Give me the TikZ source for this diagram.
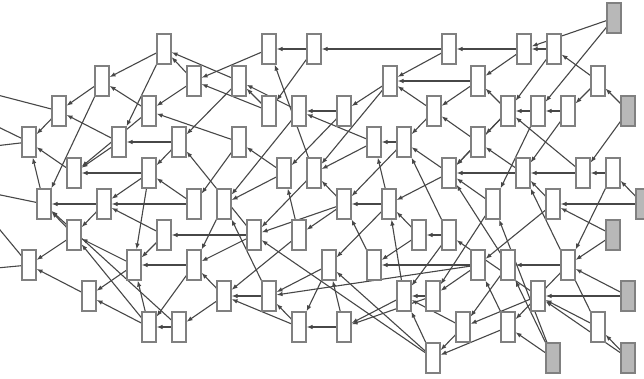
\documentclass[tikz,border=0pt]{standalone}
\usetikzlibrary{arrows.meta, backgrounds}
\begin{document}
\begin{tikzpicture}[
    x=1pt, y=-1pt,
    blk/.style={draw=black!50, fill=white, line width=1.1pt, minimum width=14pt, minimum height=30pt, inner sep=0pt},
    src/.style={blk, fill=black!28},
    arr/.style={-{Latex[length=6pt, width=4.5pt]}, line width=1.1pt, black!72},
  ]
  \useasboundingbox (0,0) rectangle (644,379);
  % --- row a
  \node[blk] (a1) at (164,49) {}; \node[blk] (a2) at (269,49) {}; \node[blk] (a3) at (314,49) {};
  \node[blk] (a4) at (449,49) {}; \node[blk] (a5) at (524,49) {}; \node[blk] (a6) at (554,49) {};
  \node[src] (a7) at (614,18) {};
  % --- row b
  \node[blk] (b1) at (102,81) {}; \node[blk] (b2) at (194,81) {}; \node[blk] (b3) at (239,81) {};
  \node[blk] (b4) at (390,81) {}; \node[blk] (b5) at (478,81) {}; \node[blk] (b6) at (598,81) {};
  % --- row c
  \node[blk] (c1) at (59,111) {}; \node[blk] (c2) at (149,111) {}; \node[blk] (c3) at (269,111) {};
  \node[blk] (c4) at (299,111) {}; \node[blk] (c5) at (344,111) {}; \node[blk] (c6) at (434,111) {};
  \node[blk] (c7) at (508,111) {}; \node[blk] (c8) at (538,111) {}; \node[blk] (c9) at (568,111) {};
  \node[src] (c10) at (628,111) {};
  % --- row d
  \node[blk] (d1) at (29,142) {}; \node[blk] (d2) at (119,142) {}; \node[blk] (d3) at (179,142) {};
  \node[blk] (d4) at (239,142) {}; \node[blk] (d5) at (374,142) {}; \node[blk] (d6) at (404,142) {};
  \node[blk] (d7) at (478,142) {};
  % --- row e
  \node[blk] (e1) at (74,173) {}; \node[blk] (e2) at (149,173) {}; \node[blk] (e3) at (284,173) {};
  \node[blk] (e4) at (314,173) {}; \node[blk] (e5) at (449,173) {}; \node[blk] (e6) at (523,173) {};
  \node[blk] (e7) at (583,173) {}; \node[blk] (e8) at (613,173) {};
  % --- row f
  \node[blk] (f1) at (44,204) {}; \node[blk] (f2) at (104,204) {}; \node[blk] (f3) at (194,204) {};
  \node[blk] (f4) at (224,204) {}; \node[blk] (f5) at (344,204) {}; \node[blk] (f6) at (389,204) {};
  \node[blk] (f7) at (493,204) {}; \node[blk] (f8) at (553,204) {};
  \node[src] (f9) at (643,204) {};
  % --- row g
  \node[blk] (g1) at (74,235) {}; \node[blk] (g2) at (164,235) {}; \node[blk] (g3) at (254,235) {};
  \node[blk] (g4) at (299,235) {}; \node[blk] (g5) at (419,235) {}; \node[blk] (g6) at (449,235) {};
  \node[src] (g7) at (613,235) {};
  % --- row h
  \node[blk] (h1) at (29,265) {}; \node[blk] (h2) at (134,265) {}; \node[blk] (h3) at (194,265) {};
  \node[blk] (h4) at (329,265) {}; \node[blk] (h5) at (374,265) {}; \node[blk] (h6) at (478,265) {};
  \node[blk] (h7) at (508,265) {}; \node[blk] (h8) at (568,265) {};
  % --- row i
  \node[blk] (i1) at (89,296) {}; \node[blk] (i2) at (224,296) {}; \node[blk] (i3) at (269,296) {};
  \node[blk] (i4) at (404,296) {}; \node[blk] (i5) at (433,296) {}; \node[blk] (i6) at (538,296) {};
  \node[src] (i7) at (628,296) {};
  % --- row j
  \node[blk] (j1) at (149,327) {}; \node[blk] (j2) at (179,327) {}; \node[blk] (j3) at (299,327) {};
  \node[blk] (j4) at (344,327) {}; \node[blk] (j5) at (463,327) {}; \node[blk] (j6) at (508,327) {};
  \node[blk] (j7) at (598,327) {};
  % --- row k
  \node[blk] (k1) at (433,358) {}; \node[src] (k2) at (553,358) {}; \node[src] (k3) at (628,358) {};
  % --- ends beyond the left border
  \coordinate (w1) at (-14,92);  \coordinate (w2) at (-14,121); \coordinate (w3) at (-14,147);
  \coordinate (w4) at (-14,192); \coordinate (w5) at (-14,213); \coordinate (w6) at (-14,269);
  % --- edges
  \begin{scope}[on background layer]
    \draw[arr] (a1) -- (b1); \draw[arr] (a1) -- (d2);
    \draw[arr] (a2) -- (b2);
    \draw[arr] (a3) -- (a2); \draw[arr] (a3) -- (c3);
    \draw[arr] (a4) -- (a3); \draw[arr] (a4) -- (b4);
    \draw[arr] (a5) -- (a4); \draw[arr] (a5) -- (b5);
    \draw[arr] (a6) -- (a5); \draw[arr] (a6) -- (c7);
    \draw[arr] (a7) -- (a5); \draw[arr] (a7) -- (c8);
    \draw[arr] (b1) -- (c1); \draw[arr] (b1) -- (f1);
    \draw[arr] (b2) -- (a1); \draw[arr] (b2) -- (c2);
    \draw[arr] (b3) -- (a1); \draw[arr] (b3) -- (d3);
    \draw[arr] (b4) -- (c5); \draw[arr] (b4) -- (e4);
    \draw[arr] (b5) -- (b4); \draw[arr] (b5) -- (c6);
    \draw[arr] (b6) -- (a6); \draw[arr] (b6) -- (c9);
    \draw[arr] (c1) -- (d1); \draw[arr] (c1) -- (w1);
    \draw[arr] (c2) -- (b1); \draw[arr] (c2) -- (e1);
    \draw[arr] (c3) -- (b2); \draw[arr] (c3) -- (b3);
    \draw[arr] (c4) -- (b3); \draw[arr] (c4) -- (f4);
    \draw[arr] (c5) -- (c4); \draw[arr] (c5) -- (e3);
    \draw[arr] (c6) -- (b4); \draw[arr] (c6) -- (d6);
    \draw[arr] (c7) -- (b5); \draw[arr] (c7) -- (d7); \draw[arr] (c7) -- (e5);
    \draw[arr] (c8) -- (c7); \draw[arr] (c8) -- (f7);
    \draw[arr] (c9) -- (c8); \draw[arr] (c9) -- (e6);
    \draw[arr] (c10) -- (b6); \draw[arr] (c10) -- (e7);
    \draw[arr] (d1) -- (w2); \draw[arr] (d1) -- (w3);
    \draw[arr] (d2) -- (c1); \draw[arr] (d2) -- (e1);
    \draw[arr] (d3) -- (d2); \draw[arr] (d3) -- (e2);
    \draw[arr] (d4) -- (c2); \draw[arr] (d4) -- (f3);
    \draw[arr] (d5) -- (c4); \draw[arr] (d5) -- (e4);
    \draw[arr] (d6) -- (d5); \draw[arr] (d6) -- (f5);
    \draw[arr] (d7) -- (c6); \draw[arr] (d7) -- (e5);
    \draw[arr] (e1) -- (d1);
    \draw[arr] (e2) -- (e1); \draw[arr] (e2) -- (f2); \draw[arr] (e2) -- (h2);
    \draw[arr] (e3) -- (f4); \draw[arr] (e3) -- (d4);
    \draw[arr] (e4) -- (a2); \draw[arr] (e4) -- (g3);
    \draw[arr] (e5) -- (f6); \draw[arr] (e5) -- (d6);
    \draw[arr] (e6) -- (e5); \draw[arr] (e6) -- (d7);
    \draw[arr] (e7) -- (c7); \draw[arr] (e7) -- (e6);
    \draw[arr] (e8) -- (h8); \draw[arr] (e8) -- (e7);
    \draw[arr] (f1) -- (d1); \draw[arr] (f1) -- (w4);
    \draw[arr] (f2) -- (f1); \draw[arr] (f2) -- (g1);
    \draw[arr] (f3) -- (f2); \draw[arr] (f3) -- (e2);
    \draw[arr] (f4) -- (h3);
    \draw[arr] (f5) -- (g4); \draw[arr] (f5) -- (g3); \draw[arr] (f5) -- (e4);
    \draw[arr] (f6) -- (f5); \draw[arr] (f6) -- (h4); \draw[arr] (f6) -- (d5);
    \draw[arr] (f7) -- (i5); \draw[arr] (f7) -- (e5);
    \draw[arr] (f8) -- (h6); \draw[arr] (f8) -- (e6);
    \draw[arr] (f9) -- (f8); \draw[arr] (f9) -- (e8);
    \draw[arr] (g1) -- (h1); \draw[arr] (g1) -- (f1);
    \draw[arr] (g2) -- (f2); \draw[arr] (g2) -- (h2);
    \draw[arr] (g3) -- (g2); \draw[arr] (g3) -- (h3); \draw[arr] (g3) -- (d3);
    \draw[arr] (g4) -- (i2); \draw[arr] (g4) -- (e3);
    \draw[arr] (g5) -- (f6); \draw[arr] (g5) -- (h5);
    \draw[arr] (g6) -- (g5); \draw[arr] (g6) -- (i4); \draw[arr] (g6) -- (d6);
    \draw[arr] (g7) -- (f8); \draw[arr] (g7) -- (h8);
    \draw[arr] (h1) -- (w5); \draw[arr] (h1) -- (w6);
    \draw[arr] (h2) -- (g1); \draw[arr] (h2) -- (i1);
    \draw[arr] (h3) -- (h2); \draw[arr] (h3) -- (j1);
    \draw[arr] (h4) -- (j3); \draw[arr] (h4) -- (i3);
    \draw[arr] (h5) -- (f5);
    \draw[arr] (h6) -- (h5); \draw[arr] (h6) -- (i5); \draw[arr] (h6) -- (i3);
    \draw[arr] (h7) -- (j5); \draw[arr] (h7) -- (e5);
    \draw[arr] (h8) -- (h7); \draw[arr] (h8) -- (j6);
    \draw[arr] (i1) -- (h1);
    \draw[arr] (i2) -- (h3); \draw[arr] (i2) -- (j2);
    \draw[arr] (i3) -- (i2); \draw[arr] (i3) -- (f4);
    \draw[arr] (i4) -- (j4); \draw[arr] (i4) -- (f6);
    \draw[arr] (i5) -- (j4); \draw[arr] (i5) -- (i4);
    \draw[arr] (i6) -- (g6); \draw[arr] (i6) -- (j5);
    \draw[arr] (i7) -- (h8); \draw[arr] (i7) -- (i6);
    \draw[arr] (j1) -- (g1); \draw[arr] (j1) -- (i1); \draw[arr] (j1) -- (h2);
    \draw[arr] (j2) -- (j1); \draw[arr] (j2) -- (f1);
    \draw[arr] (j3) -- (i2); \draw[arr] (j3) -- (i3);
    \draw[arr] (j4) -- (j3); \draw[arr] (j4) -- (h4);
    \draw[arr] (j5) -- (k1); \draw[arr] (j5) -- (i4);
    \draw[arr] (j6) -- (k1); \draw[arr] (j6) -- (h6);
    \draw[arr] (j7) -- (i6); \draw[arr] (j7) -- (e6);
    \draw[arr] (k1) -- (g3); \draw[arr] (k1) -- (h4); \draw[arr] (k1) -- (i4);
    \draw[arr] (k2) -- (j6); \draw[arr] (k2) -- (f7); \draw[arr] (k2) -- (h7);
    \draw[arr] (k3) -- (j7); \draw[arr] (k3) -- (i6);
  \end{scope}
\end{tikzpicture}
\end{document}
